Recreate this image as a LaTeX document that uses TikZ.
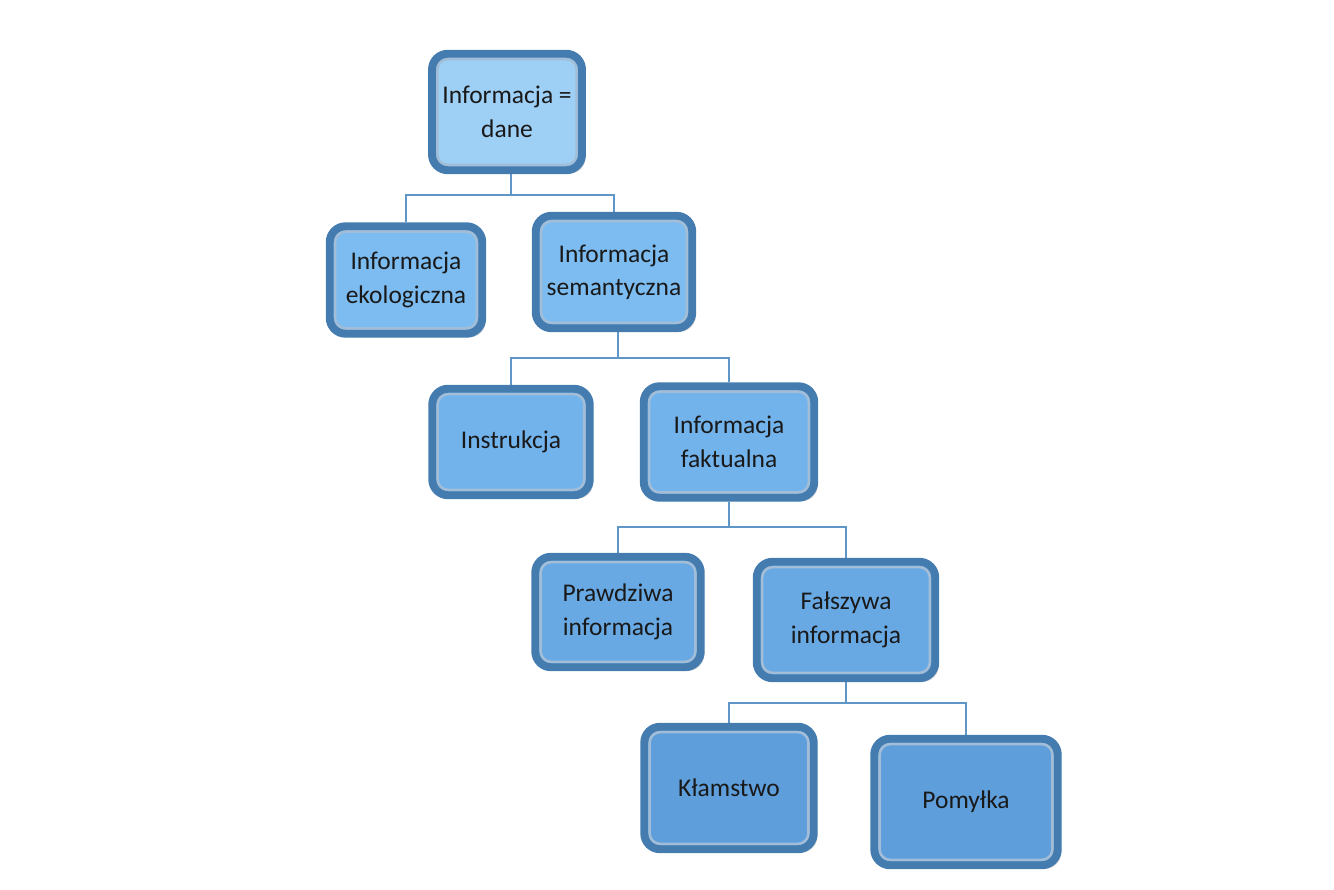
\documentclass[tikz,border=0pt]{standalone}
\usepackage{fontspec}
\setmainfont{Carlito}
\usetikzlibrary{positioning,calc,shadows,backgrounds}
\definecolor{edgeblue}{RGB}{68,124,176}
\definecolor{lineblue}{RGB}{95,150,200}
\definecolor{faceA}{RGB}{158,208,246}
\definecolor{faceB}{RGB}{124,188,240}
\definecolor{faceC}{RGB}{114,179,236}
\definecolor{faceD}{RGB}{104,169,228}
\definecolor{faceE}{RGB}{94,158,218}

\tikzset{
  bbox/.style={rounded corners=9pt, draw=edgeblue, line width=4.5pt, fill=#1,
    align=center, inner sep=2pt, font=\fontsize{14.5}{19}\selectfont,
    text=black!90,
    drop shadow={opacity=0.3, shadow xshift=2pt, shadow yshift=-2pt},
    path picture={\draw[white!50!edgeblue, line width=1.6pt, rounded corners=6pt]
      ($(path picture bounding box.south west)+(3pt,3pt)$) rectangle
      ($(path picture bounding box.north east)-(3pt,3pt)$);}},
  conn/.style={draw=lineblue, line width=1pt}
}

\begin{document}
\begin{tikzpicture}
  \useasboundingbox (0,0) rectangle (26.68,17.78);
  % level 1
  \node[bbox=faceA, minimum width=3.0cm, minimum height=2.33cm] (dane) at (10.14,15.54) {Informacja =\\dane};
  % level 2
  \node[bbox=faceB, minimum width=3.05cm, minimum height=2.15cm] (ekolog) at (8.12,12.18) {Informacja\\ekologiczna};
  \node[bbox=faceB, minimum width=3.13cm, minimum height=2.25cm] (seman) at (12.28,12.34) {Informacja\\semantyczna};
  % level 3
  \node[bbox=faceC, minimum width=3.15cm, minimum height=2.13cm] (instr) at (10.22,8.94) {Instrukcja};
  \node[bbox=faceC, minimum width=3.41cm, minimum height=2.23cm] (faktu) at (14.58,8.94) {Informacja\\faktualna};
  % level 4
  \node[bbox=faceD, minimum width=3.31cm, minimum height=2.21cm] (prawda) at (12.36,5.54) {Prawdziwa\\informacja};
  \node[bbox=faceD, minimum width=3.57cm, minimum height=2.33cm] (falsz) at (16.92,5.38) {Fałszywa\\informacja};
  % level 5
  \node[bbox=faceE, minimum width=3.39cm, minimum height=2.45cm] (klam) at (14.58,2.02) {Kłamstwo};
  \node[bbox=faceE, minimum width=3.67cm, minimum height=2.53cm] (pomyl) at (19.32,1.74) {Pomyłka};
  % connectors
  \coordinate (j1) at (10.22,13.88);
  \coordinate (j2) at (12.36,10.62);
  \coordinate (j3) at (14.58,7.24);
  \coordinate (j4) at (16.92,3.72);
  \begin{scope}[on background layer]
    \draw[conn] (dane.south -| j1) -- (j1) -| (ekolog.north);
    \draw[conn] (j1) -| (seman.north);
    \draw[conn] (seman.south -| j2) -- (j2) -| (instr.north);
    \draw[conn] (j2) -| (faktu.north);
    \draw[conn] (faktu.south) -- (j3) -| (prawda.north);
    \draw[conn] (j3) -| (falsz.north);
    \draw[conn] (falsz.south) -- (j4) -| (klam.north);
    \draw[conn] (j4) -| (pomyl.north);
  \end{scope}
\end{tikzpicture}
\end{document}
